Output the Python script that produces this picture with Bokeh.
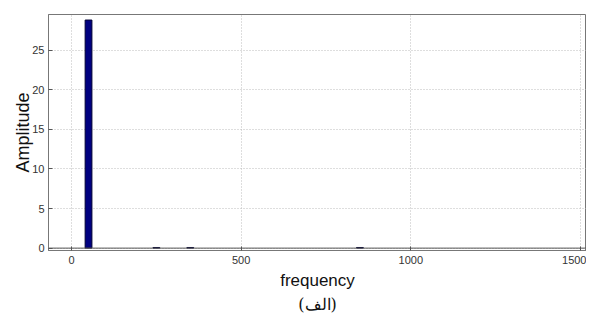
from bokeh.plotting import figure
from bokeh.embed import file_html
from bokeh.resources import INLINE
from bokeh.models import Range1d, FixedTicker, Span, Title

# data
frequency = [50, 250, 350, 850]
amplitude = [28.8, 0.08, 0.08, 0.08]
x_ticks = [0, 500, 1000, 1500]
y_ticks = [0, 5, 10, 15, 20, 25]

p = figure(width=586, height=313, output_backend="svg", toolbar_location=None,
           x_range=Range1d(-68, 1518), y_range=Range1d(-0.3, 29.5),
           min_border_left=48, min_border_right=0, min_border_top=14, min_border_bottom=1)

p.vbar(x=frequency, top=amplitude, width=20, bottom=0,
       fill_color="#000080", line_color="#000033", line_width=1)

baseline = Span(location=0, dimension="width", line_color="#555555", line_width=1)
p.add_layout(baseline)

p.xaxis.ticker = FixedTicker(ticks=x_ticks)
p.yaxis.ticker = FixedTicker(ticks=y_ticks)
p.xaxis.minor_tick_line_color = None
p.yaxis.minor_tick_line_color = None
for ax in (p.xaxis, p.yaxis):
    ax.major_tick_in = 4
    ax.major_tick_out = 0
    ax.axis_line_color = "#777777"
    ax.major_tick_line_color = "#555555"
    ax.major_label_text_font = "Liberation Sans"
    ax.major_label_text_font_size = "11px"
    ax.major_label_text_color = "#333333"
    ax.axis_label_text_font = "Liberation Sans"
    ax.axis_label_text_font_style = "normal"
    ax.axis_label_text_color = "#111111"

p.xaxis.axis_label = "frequency"
p.xaxis.axis_label_text_font_size = "17px"
p.xaxis.axis_label_standoff = 4
p.xaxis.major_label_standoff = 5
p.yaxis.axis_label = "Amplitude"
p.yaxis.axis_label_text_font_size = "18px"
p.yaxis.axis_label_standoff = -4
p.yaxis.major_label_standoff = 4

p.xgrid.ticker = FixedTicker(ticks=x_ticks)
p.ygrid.ticker = FixedTicker(ticks=y_ticks)
p.grid.grid_line_color = "#bdbdbd"
p.grid.grid_line_dash = "1 2"
p.grid.grid_line_width = 1

p.outline_line_color = "#777777"
p.outline_line_width = 1

cap = Title(text="(الف)", align="center", text_font="DejaVu Serif",
            text_font_size="16px", text_font_style="normal", text_color="#111111",
            standoff=0, offset=0)
p.add_layout(cap, "below")

open("out.html", "w").write(file_html(p, INLINE))
